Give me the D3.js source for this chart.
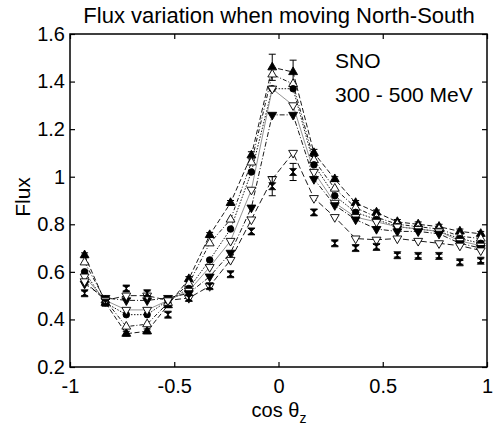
<!DOCTYPE html>
<html>
<head>
<meta charset="utf-8">
<script src="https://cdn.jsdelivr.net/npm/d3@7"></script>
<style>
  body { margin: 0; background: #fff; }
  text { font-family: "Liberation Sans", Arial, sans-serif; fill: #000; }
</style>
</head>
<body>
<div id="chart"></div>
<script>
// cos(theta_z) bin centres
const cosBins = [-0.93, -0.83, -0.73, -0.63, -0.53, -0.43, -0.33, -0.23, -0.13, -0.03,
                 0.07, 0.17, 0.27, 0.37, 0.47, 0.57, 0.67, 0.77, 0.87, 0.97];

// model curves
const fluxUpFilled   = [0.67, 0.47, 0.34, 0.35, 0.46, 0.57, 0.755, 0.89, 1.09, 1.46, 1.44, 1.10, 0.99, 0.89, 0.85, 0.81, 0.80, 0.79, 0.77, 0.76];
const errUpFilled    = [0.01, 0.01, 0.01, 0.01, 0.01, 0.01, 0.01, 0.01, 0.015, 0.055, 0.05, 0.015, 0.01, 0.01, 0.01, 0.01, 0.01, 0.01, 0.01, 0.01];
const fluxUpOpen     = [0.64, 0.48, 0.37, 0.38, 0.47, 0.55, 0.72, 0.82, 1.06, 1.43, 1.39, 1.07, 0.95, 0.87, 0.83, 0.80, 0.79, 0.78, 0.75, 0.74];
const fluxCircle     = [0.60, 0.47, 0.42, 0.42, 0.48, 0.53, 0.65, 0.78, 1.02, 1.37, 1.37, 1.05, 0.92, 0.85, 0.82, 0.79, 0.78, 0.77, 0.74, 0.72];
const fluxDownOpen   = [0.58, 0.48, 0.44, 0.44, 0.48, 0.52, 0.62, 0.73, 0.945, 1.37, 1.30, 1.02, 0.89, 0.83, 0.81, 0.79, 0.78, 0.77, 0.73, 0.71];
const fluxDownFilled = [0.55, 0.49, 0.48, 0.48, 0.49, 0.51, 0.58, 0.68, 0.87, 1.26, 1.26, 0.99, 0.88, 0.82, 0.78, 0.77, 0.77, 0.76, 0.72, 0.70];
const fluxLow        = [0.56, 0.48, 0.50, 0.50, 0.48, 0.49, 0.54, 0.65, 0.82, 0.99, 1.10, 0.91, 0.83, 0.74, 0.735, 0.74, 0.73, 0.72, 0.71, 0.69];

// points with error bars, not joined
const fluxData = [0.51, 0.47, 0.53, 0.51, 0.42, 0.49, 0.54, 0.59, 0.77, 0.96, 1.02, 0.85, 0.72, 0.70, 0.705, 0.67, 0.667, 0.667, 0.64, 0.647];
const errData  = [0.01, 0.01, 0.01, 0.01, 0.01, 0.01, 0.01, 0.01, 0.012, 0.04, 0.036, 0.012, 0.01, 0.01, 0.01, 0.008, 0.008, 0.008, 0.008, 0.008];

const xTicks = [-1, -0.5, 0, 0.5, 1];
const yTicks = [0.2, 0.4, 0.6, 0.8, 1, 1.2, 1.4, 1.6];

const width = 493, height = 428;
const margin = {top: 34, right: 6, bottom: 61, left: 70};

const svg = d3.select("#chart").append("svg")
    .attr("width", width)
    .attr("height", height);

const x = d3.scaleLinear().domain([-1, 1]).range([margin.left, width - margin.right]);
const y = d3.scaleLinear().domain([0.2, 1.6]).range([height - margin.bottom, margin.top]);

const fmt = d => String(d);

// axes, ticks pointing inward
svg.append("g")
    .attr("transform", `translate(0,${y(0.2)})`)
    .call(d3.axisBottom(x).tickValues(xTicks).tickSize(-5).tickPadding(12).tickFormat(fmt))
    .call(g => g.select(".domain").remove())
    .call(g => g.selectAll("text").attr("font-size", 20).attr("font-family", "Liberation Sans, Arial, sans-serif"));

svg.append("g")
    .attr("transform", `translate(0,${y(1.6)})`)
    .call(d3.axisTop(x).tickValues(xTicks).tickSize(-5).tickFormat(""))
    .call(g => g.select(".domain").remove());

svg.append("g")
    .attr("transform", `translate(${x(-1)},0)`)
    .call(d3.axisLeft(y).tickValues(yTicks).tickSize(-5).tickPadding(5).tickFormat(fmt))
    .call(g => g.select(".domain").remove())
    .call(g => g.selectAll("text").attr("font-size", 20).attr("font-family", "Liberation Sans, Arial, sans-serif"));

svg.append("g")
    .attr("transform", `translate(${x(1)},0)`)
    .call(d3.axisRight(y).tickValues(yTicks).tickSize(-5).tickFormat(""))
    .call(g => g.select(".domain").remove());

svg.selectAll(".tick line").attr("stroke", "#000").attr("stroke-width", 1.2);

svg.append("rect")
    .attr("x", x(-1)).attr("y", y(1.6))
    .attr("width", x(1) - x(-1)).attr("height", y(0.2) - y(1.6))
    .attr("fill", "none").attr("stroke", "#000").attr("stroke-width", 1.5);

// curves
const series = [
    {vals: fluxUpFilled,   sym: "up",   fill: true,  dash: "5,2.5",       stroke: "#000"},
    {vals: fluxUpOpen,     sym: "up",   fill: false, dash: "4,2,1,2",     stroke: "#000"},
    {vals: fluxCircle,     sym: "circ", fill: true,  dash: "1.5,1.5",     stroke: "#000"},
    {vals: fluxDownOpen,   sym: "down", fill: false, dash: null,          stroke: "#888"},
    {vals: fluxDownFilled, sym: "down", fill: true,  dash: "5,2,1,2",     stroke: "#000"},
    {vals: fluxLow,        sym: "down", fill: false, dash: "6,3",         stroke: "#000"}
];

const line = d3.line().x((d, i) => x(cosBins[i])).y(d => y(d));

const symPath = {
    up:   d3.symbol().type(d3.symbolTriangle).size(34)(),
    down: d3.symbol().type(d3.symbolTriangle).size(34)(),
    circ: d3.symbol().type(d3.symbolCircle).size(34)()
};

series.forEach(s => {
    svg.append("path")
        .attr("d", line(s.vals))
        .attr("fill", "none")
        .attr("stroke", s.stroke)
        .attr("stroke-width", 0.9)
        .attr("stroke-dasharray", s.dash);
});

// error bars on the top curve
const drawErr = (vals, errs) => {
    const g = svg.append("g").attr("stroke", "#000").attr("stroke-width", 1);
    vals.forEach((v, i) => {
        const cx = x(cosBins[i]);
        const y0 = y(v - errs[i]), y1 = y(v + errs[i]);
        g.append("line").attr("x1", cx).attr("x2", cx).attr("y1", y0).attr("y2", y1);
        g.append("line").attr("x1", cx - 3.5).attr("x2", cx + 3.5).attr("y1", y0).attr("y2", y0);
        g.append("line").attr("x1", cx - 3.5).attr("x2", cx + 3.5).attr("y1", y1).attr("y2", y1);
    });
};
drawErr(fluxUpFilled, errUpFilled);

series.forEach(s => {
    svg.append("g").selectAll("path")
        .data(s.vals)
        .join("path")
        .attr("d", symPath[s.sym])
        .attr("transform", (d, i) => `translate(${x(cosBins[i])},${y(d)})` + (s.sym === "down" ? " rotate(180)" : ""))
        .attr("fill", s.fill ? "#000" : "#fff")
        .attr("stroke", "#000")
        .attr("stroke-width", 0.9);
});

// data points: hourglass with error bars
drawErr(fluxData, errData);
svg.append("g").selectAll("path")
    .data(fluxData)
    .join("path")
    .attr("d", "M-3.5,-3.5L3.5,-3.5L-3.5,3.5L3.5,3.5Z")
    .attr("transform", (d, i) => `translate(${x(cosBins[i])},${y(d)})`)
    .attr("fill", "#000")
    .attr("stroke", "#000")
    .attr("stroke-width", 0.8);

// labels
svg.append("text")
    .attr("x", 279).attr("y", 23)
    .attr("text-anchor", "middle")
    .attr("font-size", 22)
    .text("Flux variation when moving North-South");

svg.append("text")
    .attr("x", 335).attr("y", 68)
    .attr("font-size", 21)
    .text("SNO");

svg.append("text")
    .attr("x", 335).attr("y", 102)
    .attr("font-size", 21)
    .text("300 - 500 MeV");

svg.append("text")
    .attr("transform", "translate(30,197) rotate(-90)")
    .attr("text-anchor", "middle")
    .attr("font-size", 21)
    .text("Flux");

const xl = svg.append("text")
    .attr("x", 279).attr("y", 417)
    .attr("text-anchor", "middle")
    .attr("font-size", 20);
xl.append("tspan").text("cos θ");
xl.append("tspan").attr("dy", 6).attr("font-size", 14).text("z");
</script>
</body>
</html>
